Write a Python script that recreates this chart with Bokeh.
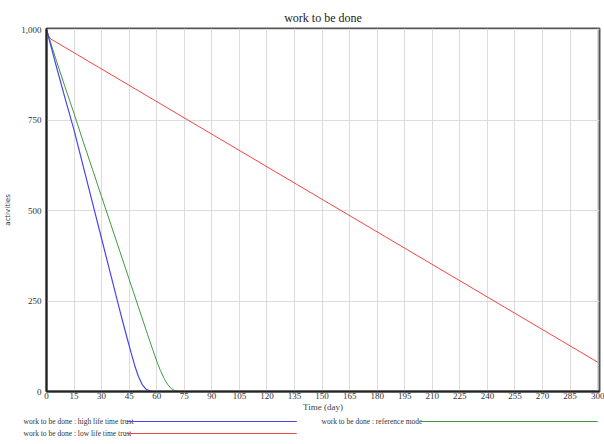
from bokeh.plotting import figure
from bokeh.models import Range1d, NumeralTickFormatter, FixedTicker, Label
from bokeh.embed import file_html
from bokeh.resources import INLINE

# ---- data ----
t_high = [0, 5, 10, 15, 20, 25, 30, 35, 40, 42, 44, 46, 48, 50, 52, 54, 56, 58, 300]
v_high = [1000, 905, 812, 722, 622, 522, 422, 322, 222, 183, 145, 108, 72, 42, 20, 7, 2, 0, 0]

t_ref = [0, 5, 10, 15, 20, 25, 30, 35, 40, 45, 50, 55, 58, 60, 62, 64, 66, 68, 70, 72, 300]
v_ref = [1000, 920, 843, 768, 690, 614, 538, 462, 386, 310, 234, 158, 113, 84, 58, 36, 19, 8, 2, 0, 0]

t_low = [0, 1, 2, 300]
v_low = [1000, 985, 975, 81]

x_ticks = list(range(0, 301, 15))
y_ticks = [0, 250, 500, 750, 1000]

series_labels = ["work to be done : high life time trust",
                 "work to be done : reference mode",
                 "work to be done : low life time trust"]
c_high, c_ref, c_low = "#4646f0", "#3f9a3f", "#f04646"

p = figure(width=604, height=444, output_backend="svg", toolbar_location=None,
           x_range=Range1d(0, 301), y_range=Range1d(0, 1003),
           min_border_left=46, min_border_right=5, min_border_top=28,
           min_border_bottom=52)

p.title.text = "work to be done"
p.title.align = "center"
p.title.text_font = "Liberation Serif"
p.title.text_font_size = "12px"
p.title.text_font_style = "normal"
p.title.text_color = "#222222"
p.title.standoff = 8

p.line(t_low, v_low, line_color=c_low, line_width=1)
p.line(t_ref, v_ref, line_color=c_ref, line_width=1)
p.line(t_high, v_high, line_color=c_high, line_width=1.2)

p.xaxis.ticker = FixedTicker(ticks=x_ticks)
p.yaxis.ticker = FixedTicker(ticks=y_ticks)
p.yaxis.formatter = NumeralTickFormatter(format="0,0")

for ax in (p.xaxis[0], p.yaxis[0]):
    ax.major_tick_line_color = None
    ax.minor_tick_line_color = None
    ax.major_tick_out = 0
    ax.major_tick_in = 0
    ax.minor_tick_out = 0
    ax.minor_tick_in = 0
    ax.axis_line_color = "#222222"
    ax.axis_line_width = 2
    ax.major_label_text_font = "Liberation Serif"
    ax.major_label_text_font_size = "9px"
    ax.major_label_text_color = "#333333"
    ax.major_label_standoff = 3

p.xaxis.major_label_standoff = 1
p.yaxis.major_label_standoff = 5

p.xaxis.axis_label = "Time (day)"
p.xaxis.axis_label_text_font = "Liberation Serif"
p.xaxis.axis_label_text_font_size = "9px"
p.xaxis.axis_label_text_font_style = "normal"
p.xaxis.axis_label_standoff = 0

p.yaxis.axis_label = "activities"
p.yaxis.axis_label_text_font = "DejaVu Sans"
p.yaxis.axis_label_text_font_size = "7px"
p.yaxis.axis_label_text_font_style = "normal"
p.yaxis.axis_label_text_color = "#333333"
p.yaxis.axis_label_standoff = 6

p.xgrid.grid_line_color = "#dcdcdc"
p.ygrid.grid_line_color = "#dcdcdc"
p.outline_line_color = "#555555"
p.outline_line_width = 2
p.background_fill_color = "white"
p.border_fill_color = "white"

# ---- legend below the axis (canvas pixel units) ----
leg_text_x = [23, 321, 23]
leg_line_x0 = [126, 421, 126]
leg_line_w = [170, 176, 170]
leg_y = [421, 421, 433]
leg_colors = [c_high, c_ref, c_low]


def swatch(x0, w, y, color):
    """A thin coloured bar: a tiny label whose filled background is padded to width w."""
    try:
        return Label(x=x0, y=y, x_units="canvas", y_units="canvas", text=" ",
                     text_font_size="1px", text_align="left", text_baseline="middle",
                     text_color=color, background_fill_color=color,
                     background_fill_alpha=1.0, border_line_color=None,
                     padding=dict(left=0, right=w, top=0, bottom=0))
    except Exception:
        return Label(x=x0, y=y, x_units="canvas", y_units="canvas",
                     text="\u2500" * int(round(w / 6.02)),
                     text_font="DejaVu Sans Mono", text_font_size="10px",
                     text_baseline="middle", text_align="left", text_color=color)


for lab, tx, lx0, w, ly, col in zip(series_labels, leg_text_x, leg_line_x0,
                                    leg_line_w, leg_y, leg_colors):
    p.add_layout(Label(x=tx, y=ly, x_units="canvas", y_units="canvas", text=lab,
                       text_font="Liberation Serif", text_font_size="7.5px",
                       text_baseline="middle", text_align="left",
                       text_color="#333333"), "below")
    p.add_layout(swatch(lx0, w, ly, col), "below")

open("out.html", "w").write(file_html(p, INLINE))
